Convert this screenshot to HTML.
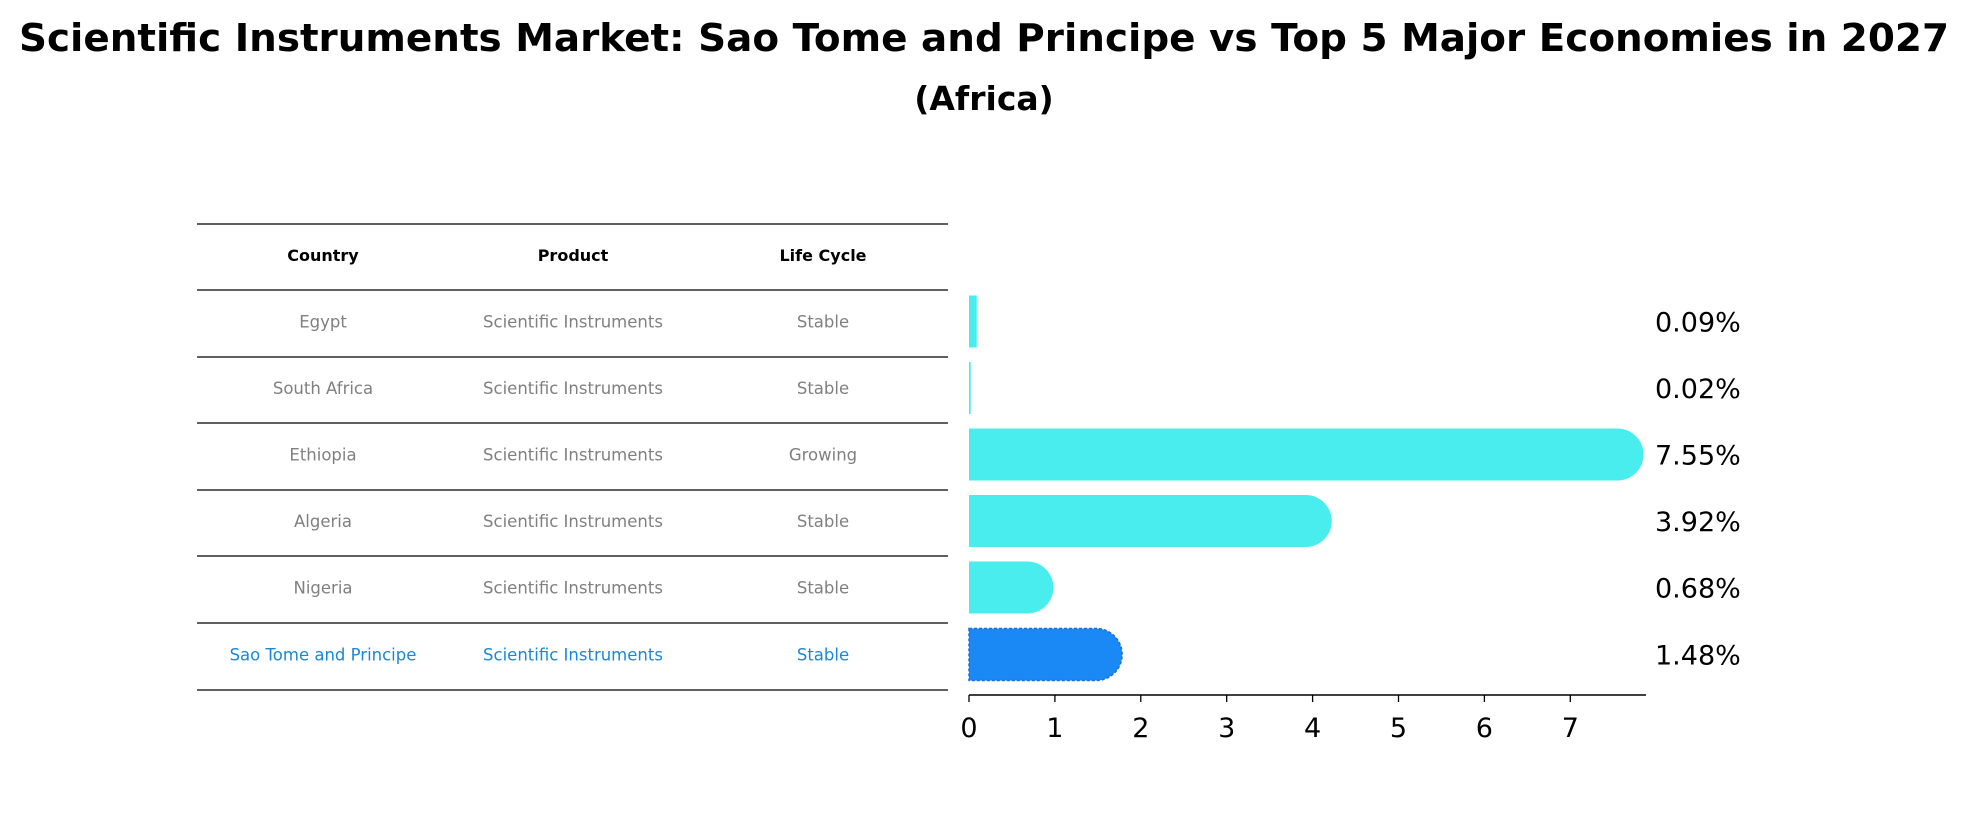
<!DOCTYPE html>
<html><head><meta charset="utf-8"><style>
body{margin:0;background:#fff;font-family:"DejaVu Sans","Liberation Sans",sans-serif;}
svg text{font-family:"DejaVu Sans","Liberation Sans",sans-serif;}
</style></head><body>
<svg id="chart" width="1969" height="823" viewBox="0 0 1969 823" xmlns="http://www.w3.org/2000/svg">
<text x="984" y="51" text-anchor="middle" font-size="38" font-weight="bold" textLength="1930" lengthAdjust="spacingAndGlyphs">Scientific Instruments Market: Sao Tome and Principe vs Top 5 Major Economies in 2027</text>
<text x="984" y="110" text-anchor="middle" font-size="33" font-weight="bold">(Africa)</text>
<g id="table"></g>
<g id="bars"></g>
</svg>
<script>
const countries = ["Egypt","South Africa","Ethiopia","Algeria","Nigeria","Sao Tome and Principe"];
const products = ["Scientific Instruments","Scientific Instruments","Scientific Instruments","Scientific Instruments","Scientific Instruments","Scientific Instruments"];
const lifeCycles = ["Stable","Stable","Growing","Stable","Stable","Stable"];
const values = [0.09,0.02,7.55,3.92,0.68,1.48];
const valueLabels = ["0.09%","0.02%","7.55%","3.92%","0.68%","1.48%"];
const ticks = [0,1,2,3,4,5,6,7];

const NS="http://www.w3.org/2000/svg";
function mk(tag,attrs,parent){const e=document.createElementNS(NS,tag);for(const k in attrs)e.setAttribute(k,attrs[k]);parent.appendChild(e);return e;}
const table=document.getElementById('table'), bars=document.getElementById('bars');
const lineYs=[224,290,357,423,490,556,623,690];
const colX=[323,573,823];
function rowY(i){return (lineYs[i+1]+lineYs[i+2])/2;}
lineYs.forEach((y,i)=>{const l=mk('line',{x1:197,x2:948,y1:y,y2:y,stroke:'#000','stroke-width':1.2},table);

});
["Country","Product","Life Cycle"].forEach((h,j)=>{const t=mk('text',{x:colX[j],y:(lineYs[0]+lineYs[1])/2+4,'text-anchor':'middle','font-size':16,'font-weight':'bold'},table);t.textContent=h;

});
countries.forEach((c,i)=>{const hl=i===countries.length-1;const col=hl?'#1a88d8':'#808080';
[c,products[i],lifeCycles[i]].forEach((v,j)=>{const t=mk('text',{x:colX[j],y:rowY(i)+4,'text-anchor':'middle','font-size':16.5,fill:col},table);t.textContent=v;

});});
const x0=969, unit=85.9, barH=52;
function xs(v){return x0+v*unit;}
const ax=mk('line',{x1:x0,x2:1646,y1:695,y2:695,stroke:'#000','stroke-width':1.5},bars);


ticks.forEach(t=>{const tl=mk('line',{x1:xs(t),x2:xs(t),y1:695,y2:702,stroke:'#000','stroke-width':1.3},bars);


const tx=mk('text',{x:xs(t),y:737,'text-anchor':'middle','font-size':27},bars);tx.textContent=t;

});
values.forEach((v,i)=>{const cy=rowY(i)-2;const hl=i===values.length-1;const col=hl?'#1a88f5':'#4aeded';
const w=Math.max(xs(v)-x0,1.2);const r=barH/2;let d;
if(v>0.5){d=`M${x0},${cy-r} H${x0+w} A${r},${r} 0 0 1 ${x0+w},${cy+r} H${x0} Z`;}else{d=`M${x0},${cy-r} H${x0+w} V${cy+r} H${x0} Z`;}
const p=mk('path',{d:d,fill:col},bars);


if(hl){p.setAttribute('stroke','#1a6fe0');p.setAttribute('stroke-dasharray','3,2');p.setAttribute('stroke-width','1.5');}
const t=mk('text',{x:1655,y:cy+10,'font-size':27},bars);t.textContent=valueLabels[i];

});
</script>
</body></html>
